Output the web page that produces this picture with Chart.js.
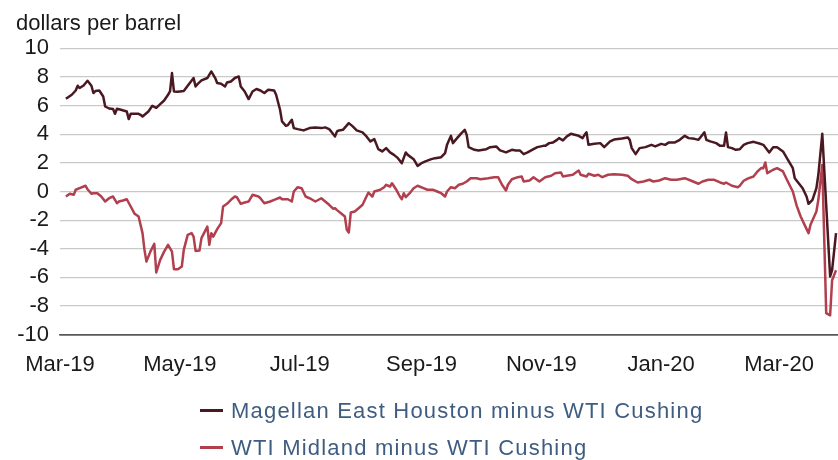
<!DOCTYPE html>
<html lang="en">
<head>
<meta charset="UTF-8">
<title>Crude oil price spreads</title>
<script src="https://cdn.jsdelivr.net/npm/chart.js"></script>
<style>
    html, body { margin: 0; padding: 0; background: #fff; }
    .wrap { position: relative; width: 838px; height: 460px; overflow: hidden; }
    .legend {
        position: absolute; left: 200px; top: 392px;
        font-family: "Liberation Sans", Arial, sans-serif; font-size: 22px; letter-spacing: 1.2px; color: #3f5d80;
    }
    .legend .row { display: flex; align-items: center; height: 37px; white-space: nowrap; }
    .legend .swatch { display: inline-block; width: 23px; height: 3px; margin-right: 8px; }
</style>
</head>
<body>
<div class="wrap">
    <canvas id="spreadChart" width="838" height="460"></canvas>
    <div class="legend" id="legend"></div>
</div>

<script>
    // x values are days counted from 1 Mar 2019
    const tickDays = [0, 61, 122, 184, 245, 306, 366];
    const tickLabels = ['Mar-19', 'May-19', 'Jul-19', 'Sep-19', 'Nov-19', 'Jan-20', 'Mar-20'];

    const magellanDays = [3, 6, 8, 9, 10, 12, 14, 16, 17, 18, 20, 22, 23, 25, 27, 28, 29, 31, 34, 35, 36, 40, 41, 42, 45, 47, 49, 51, 53, 55, 56, 57, 58, 60, 63, 65, 68, 69, 70, 72, 75, 77, 79, 80, 82, 84, 85, 87, 89, 91, 92, 94, 96, 98, 100, 102, 104, 106, 109, 110, 112, 113, 115, 116, 118, 119, 121, 124, 127, 130, 133, 135, 137, 138, 140, 141, 142, 144, 147, 149, 151, 154, 156, 158, 160, 162, 164, 166, 168, 170, 172, 174, 176, 177, 180, 182, 184, 186, 189, 191, 194, 196, 197, 199, 200, 202, 204, 206, 207, 208, 211, 213, 217, 219, 222, 224, 227, 230, 232, 234, 236, 238, 241, 243, 246, 247, 249, 251, 253, 254, 256, 258, 260, 262, 264, 266, 267, 268, 269, 272, 275, 277, 280, 282, 286, 289, 290, 291, 293, 295, 298, 301, 303, 306, 308, 310, 313, 315, 318, 320, 323, 325, 328, 329, 331, 334, 336, 338, 339, 340, 342, 344, 346, 348, 350, 353, 356, 358, 361, 363, 365, 368, 370, 373, 374, 376, 378, 380, 381, 383, 385, 386, 388, 392, 393, 395];
    const magellanValues = [6.48, 6.76, 7.06, 7.39, 7.23, 7.41, 7.74, 7.39, 6.88, 7.02, 7.06, 6.64, 5.94, 5.80, 5.76, 5.43, 5.78, 5.71, 5.59, 5.06, 5.43, 5.43, 5.36, 5.24, 5.59, 5.99, 5.85, 6.11, 6.36, 6.76, 6.99, 8.28, 6.99, 6.97, 7.02, 7.39, 7.93, 7.34, 7.50, 7.76, 7.93, 8.39, 7.93, 7.58, 7.53, 7.34, 7.62, 7.69, 7.93, 8.04, 7.34, 6.99, 6.46, 6.99, 7.16, 7.06, 6.88, 7.11, 7.06, 6.76, 5.71, 4.90, 4.59, 4.64, 5.01, 4.43, 4.36, 4.27, 4.43, 4.48, 4.43, 4.48, 4.36, 4.20, 3.85, 4.20, 4.27, 4.31, 4.78, 4.55, 4.27, 4.13, 3.85, 3.50, 3.66, 2.96, 2.80, 3.03, 2.73, 2.56, 2.33, 1.98, 2.73, 2.56, 2.26, 1.79, 1.98, 2.10, 2.26, 2.33, 2.40, 2.68, 3.26, 3.89, 3.38, 3.71, 4.03, 4.31, 3.96, 3.10, 2.91, 2.87, 2.96, 3.10, 3.15, 2.87, 2.73, 2.91, 2.87, 2.87, 2.61, 2.73, 2.96, 3.10, 3.19, 3.19, 3.38, 3.43, 3.61, 3.73, 3.57, 3.85, 4.03, 3.96, 3.89, 3.73, 3.96, 4.13, 3.26, 3.33, 3.38, 3.10, 3.50, 3.63, 3.71, 3.78, 3.61, 3.03, 2.61, 3.03, 3.10, 3.26, 3.15, 3.33, 3.26, 3.43, 3.43, 3.57, 3.89, 3.73, 3.68, 3.61, 4.13, 3.61, 3.50, 3.38, 3.19, 3.19, 4.13, 3.10, 3.03, 2.91, 2.95, 3.26, 3.38, 3.47, 3.35, 3.26, 2.73, 3.10, 3.10, 2.80, 2.33, 1.63, 0.93, 0.58, 0.23, -0.35, -0.86, -0.58, 0.23, 1.17, 4.03, -5.94, -5.50, -2.91];

    const midlandDays = [3, 5, 7, 8, 10, 13, 14, 16, 17, 19, 21, 23, 25, 27, 29, 30, 32, 34, 36, 38, 40, 42, 43, 44, 46, 48, 49, 51, 53, 55, 57, 58, 60, 62, 63, 65, 67, 68, 69, 71, 72, 75, 76, 77, 78, 80, 82, 83, 85, 87, 89, 90, 92, 94, 96, 98, 101, 102, 104, 107, 109, 112, 113, 116, 118, 119, 121, 123, 125, 128, 130, 133, 135, 137, 139, 140, 141, 143, 145, 146, 147, 148, 150, 152, 154, 156, 157, 159, 160, 163, 165, 166, 168, 169, 171, 173, 174, 175, 176, 178, 180, 182, 185, 187, 190, 192, 194, 196, 197, 199, 201, 203, 205, 207, 209, 212, 214, 218, 221, 223, 225, 227, 228, 230, 233, 235, 236, 239, 241, 244, 247, 250, 252, 255, 256, 258, 261, 264, 265, 268, 269, 272, 274, 276, 279, 282, 286, 289, 291, 294, 297, 300, 302, 305, 308, 311, 314, 318, 321, 325, 327, 330, 333, 336, 338, 339, 342, 345, 346, 348, 350, 353, 355, 357, 358, 359, 360, 363, 365, 368, 370, 373, 375, 377, 379, 381, 382, 385, 386, 388, 390, 392, 393, 395];
    const midlandValues = [-0.35, -0.16, -0.23, 0.12, 0.23, 0.40, 0.16, -0.16, -0.12, -0.12, -0.35, -0.70, -0.47, -0.35, -0.82, -0.70, -0.63, -0.54, -1.05, -1.56, -1.75, -2.91, -4.08, -4.90, -4.20, -3.66, -5.66, -4.78, -4.20, -3.73, -4.20, -5.43, -5.43, -5.24, -4.08, -3.03, -2.91, -3.15, -4.15, -4.13, -3.26, -2.45, -3.73, -2.91, -3.15, -2.63, -2.21, -1.05, -0.86, -0.58, -0.35, -0.40, -0.86, -0.77, -0.70, -0.23, -0.35, -0.47, -0.82, -0.70, -0.58, -0.42, -0.54, -0.54, -0.70, 0.00, 0.30, 0.23, -0.35, -0.54, -0.70, -0.47, -0.70, -0.93, -1.20, -1.17, -1.30, -1.52, -1.75, -2.68, -2.87, -1.47, -1.40, -1.17, -0.93, -0.35, -0.07, -0.35, 0.00, 0.12, 0.30, 0.47, 0.35, 0.58, 0.16, -0.35, -0.54, -0.12, -0.40, -0.12, 0.23, 0.40, 0.23, 0.12, 0.12, 0.00, -0.12, -0.35, 0.00, 0.30, 0.23, 0.47, 0.54, 0.70, 0.93, 0.93, 0.86, 0.93, 1.00, 1.00, 0.47, 0.07, 0.47, 0.86, 1.00, 1.05, 0.70, 0.77, 1.00, 0.70, 1.00, 1.10, 1.28, 1.33, 1.05, 1.10, 1.17, 1.47, 1.17, 1.05, 1.24, 1.10, 1.17, 1.00, 1.17, 1.20, 1.17, 1.10, 0.86, 0.63, 0.70, 0.82, 0.70, 0.77, 0.93, 0.82, 0.82, 0.93, 0.77, 0.54, 0.70, 0.82, 0.82, 0.63, 0.54, 0.63, 0.40, 0.30, 0.40, 0.75, 0.90, 1.05, 1.40, 1.65, 1.63, 2.03, 1.28, 1.52, 1.63, 1.40, 0.82, 0.00, -1.00, -1.75, -2.33, -2.91, -2.33, -1.40, -0.58, 1.86, -8.50, -8.65, -6.20, -5.50];

    const seriesNames = ['Magellan East Houston minus WTI Cushing', 'WTI Midland minus WTI Cushing'];
    const seriesColors = ['#4a1821', '#b13f4d'];

    const toPoints = (days, values) => days.map((d, i) => ({ x: d, y: values[i] }));

    const fontFamily = '"Liberation Sans", Arial, sans-serif';

    const ctx = document.getElementById('spreadChart').getContext('2d');
    const spreadChart = new Chart(ctx, {
        type: 'line',
        data: {
            datasets: [
                {
                    label: seriesNames[0],
                    data: toPoints(magellanDays, magellanValues),
                    borderColor: seriesColors[0],
                    borderWidth: 2.5
                },
                {
                    label: seriesNames[1],
                    data: toPoints(midlandDays, midlandValues),
                    borderColor: seriesColors[1],
                    borderWidth: 2.5
                }
            ]
        },
        options: {
            responsive: false,
            animation: false,
            devicePixelRatio: 1,
            layout: { padding: { left: 16, right: 0, top: 0, bottom: 65 } },
            elements: {
                point: { radius: 0 },
                line: { tension: 0, borderJoinStyle: 'round' }
            },
            plugins: {
                legend: { display: false },
                tooltip: { enabled: false },
                title: {
                    display: true,
                    text: 'dollars per barrel',
                    align: 'start',
                    color: '#1a1a1a',
                    font: { family: fontFamily, size: 22, weight: 'normal' },
                    padding: { top: 11, bottom: 11 }
                }
            },
            scales: {
                x: {
                    type: 'linear',
                    min: 0,
                    max: 396,
                    afterBuildTicks: (scale) => {
                        scale.ticks = tickDays.map(v => ({ value: v }));
                    },
                    ticks: {
                        autoSkip: false,
                        maxRotation: 0,
                        padding: 17,
                        color: '#1a1a1a',
                        font: { family: fontFamily, size: 22 },
                        callback: (value) => tickLabels[tickDays.indexOf(value)]
                    },
                    grid: { display: false, drawTicks: false },
                    border: { display: true, color: '#5a5a5a', width: 1.5 }
                },
                y: {
                    min: -10,
                    max: 10,
                    afterFit: (scale) => { scale.width = 44; },
                    ticks: {
                        stepSize: 2,
                        autoSkip: false,
                        padding: 11,
                        color: '#1a1a1a',
                        font: { family: fontFamily, size: 22 }
                    },
                    grid: {
                        drawTicks: false,
                        color: (c) => c.tick && c.tick.value === -10 ? '#5a5a5a' : '#c9c9c9',
                        lineWidth: (c) => c.tick && c.tick.value === -10 ? 1.5 : 1.2
                    },
                    border: { display: false }
                }
            }
        }
    });

    // Legend stacked in two rows under the plot
    const legendEl = document.getElementById('legend');
    spreadChart.data.datasets.forEach((ds) => {
        const row = document.createElement('div');
        row.className = 'row';
        const swatch = document.createElement('span');
        swatch.className = 'swatch';
        swatch.style.background = ds.borderColor;
        row.appendChild(swatch);
        row.appendChild(document.createTextNode(ds.label));
        legendEl.appendChild(row);
    });
</script>
</body>
</html>
